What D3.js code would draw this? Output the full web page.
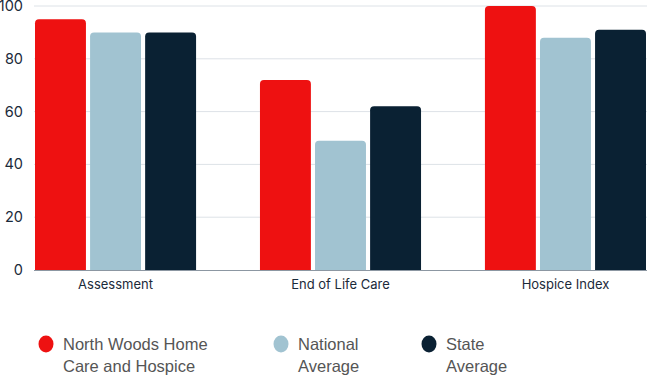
<!DOCTYPE html>
<html>
<head>
<meta charset="utf-8">
<script src="https://cdn.jsdelivr.net/npm/d3@7"></script>
<style>
  body { margin: 0; background: #fff; }
  svg { display: block; }
</style>
</head>
<body>
<div id="content"></div>
<script>
const categories = ['Assessment', 'End of Life Care', 'Hospice Index'];
const series = ['North Woods Home Care and Hospice', 'National Average', 'State Average'];
const northWoods = [95, 72, 100];
const national = [90, 49, 88];
const state = [90, 62, 91];
const yTicks = [0, 20, 40, 60, 80, 100];
const legendLines = [['North Woods Home', 'Care and Hospice'], ['National', 'Average'], ['State', 'Average']];

const colors = ['#ee1111', '#a1c3d1', '#0a2133'];
const values = [northWoods, national, state];

var width = 647;
var height = 376;
var margin = {top: 6, right: 1, bottom: 106, left: 35};

const svg = d3.select('#content')
              .append('svg')
              .attr('width', width)
              .attr('height', height);

const y = d3.scaleLinear()
            .domain([0, 100])
            .range([height - margin.bottom, margin.top]);

const x0 = d3.scaleBand()
             .domain(categories)
             .range([margin.left, width - margin.right])
             .paddingInner(0.284)
             .paddingOuter(0);

const x1 = d3.scaleBand()
             .domain(series)
             .range([0, x0.bandwidth()])
             .paddingInner(0.075);

// grid lines
svg.append('g')
   .selectAll('line')
   .data(yTicks.slice(1))
   .enter()
   .append('line')
   .attr('x1', margin.left - 1)
   .attr('x2', width)
   .attr('y1', d => y(d))
   .attr('y2', d => y(d))
   .attr('stroke', '#dde2e7')
   .attr('stroke-width', 1);

// y labels
svg.append('g')
   .selectAll('text')
   .data(yTicks)
   .enter()
   .append('text')
   .attr('x', 23)
   .attr('y', d => y(d) + 5)
   .attr('text-anchor', 'end')
   .attr('font-family', 'Inter, sans-serif')
   .attr('font-size', 14.5)
   .attr('fill', '#1b2a3a')
   .text(d => d);

function topRounded(x, yTop, w, h, r) {
    r = Math.min(r, h);
    return 'M' + x + ',' + (yTop + h) +
           'V' + (yTop + r) +
           'Q' + x + ',' + yTop + ' ' + (x + r) + ',' + yTop +
           'H' + (x + w - r) +
           'Q' + (x + w) + ',' + yTop + ' ' + (x + w) + ',' + (yTop + r) +
           'V' + (yTop + h) + 'Z';
}

const groups = svg.append('g')
   .selectAll('g')
   .data(categories)
   .enter()
   .append('g')
   .attr('transform', d => 'translate(' + x0(d) + ',0)');

groups.selectAll('path')
   .data((c, ci) => series.map((s, si) => ({s: s, i: si, v: values[si][ci]})))
   .enter()
   .append('path')
   .attr('d', d => topRounded(x1(d.s), y(d.v), x1.bandwidth(), y(0) - y(d.v), 4))
   .attr('fill', d => colors[d.i]);

// baseline
svg.append('line')
   .attr('x1', margin.left - 1)
   .attr('x2', width)
   .attr('y1', y(0) + 0.5)
   .attr('y2', y(0) + 0.5)
   .attr('stroke', '#8c97a2')
   .attr('stroke-width', 1);

// category labels
svg.append('g')
   .selectAll('text')
   .data(categories)
   .enter()
   .append('text')
   .attr('x', d => x0(d) + x0.bandwidth() / 2)
   .attr('y', y(0) + 19)
   .attr('text-anchor', 'middle')
   .attr('font-family', 'Inter, sans-serif')
   .attr('font-size', 13)
   .attr('fill', '#1b2a3a')
   .text(d => d);

// legend
const legendX = [46, 281, 429];
const legend = svg.append('g')
   .selectAll('g')
   .data(series)
   .enter()
   .append('g')
   .attr('transform', (d, i) => 'translate(' + legendX[i] + ',344)');

legend.append('ellipse')
   .attr('rx', 7.5)
   .attr('ry', 8.5)
   .attr('fill', (d, i) => colors[i]);

legend.append('text')
   .attr('x', 17)
   .attr('y', 6)
   .attr('font-family', '"Liberation Sans", Arial, sans-serif')
   .attr('font-size', 16.5)
   .attr('fill', '#555555')
   .selectAll('tspan')
   .data((d, i) => legendLines[i])
   .enter()
   .append('tspan')
   .attr('x', 17)
   .attr('dy', (d, i) => i === 0 ? 0 : 22)
   .text(d => d);
</script>
</body>
</html>
